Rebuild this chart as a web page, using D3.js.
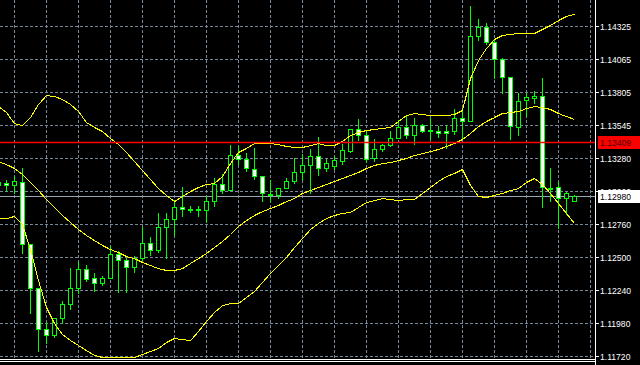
<!DOCTYPE html>
<html>
<head>
<meta charset="utf-8">
<script src="https://cdn.jsdelivr.net/npm/d3@7"></script>
<style>
  body { margin: 0; background: #000; }
  svg { display: block; }
  text { font-family: "Liberation Sans", Arial, sans-serif; font-size: 8.6px; }
</style>
</head>
<body>
<script>
// candles, oldest first (the first one is cut at the left edge)
var opens = [1.13093, 1.13085, 1.13070, 1.13093, 1.12604, 1.12257, 1.11933, 1.11886, 1.12020, 1.12130,
  1.12257, 1.12407, 1.12336, 1.12296, 1.12336, 1.12525, 1.12478, 1.12422, 1.12493, 1.12612,
  1.12557, 1.12738, 1.12801, 1.12896, 1.12880, 1.12880, 1.12872, 1.12943, 1.13078, 1.13030,
  1.13306, 1.13275, 1.13196, 1.13141, 1.12999, 1.12991, 1.13046, 1.13101, 1.13172, 1.13228,
  1.13299, 1.13204, 1.13220, 1.13259, 1.13338, 1.13512, 1.13464, 1.13283, 1.13354, 1.13385,
  1.13441, 1.13528, 1.13464, 1.13543, 1.13504, 1.13496, 1.13496, 1.13496, 1.13599, 1.13575,
  1.14246, 1.14317, 1.14198, 1.14064, 1.13922, 1.13528, 1.13741, 1.13756, 1.13772, 1.13046,
  1.13054, 1.12967, 1.12943]
var highs = [1.13109, 1.13109, 1.13141, 1.13204, 1.12604, 1.12257, 1.11988, 1.12020, 1.12154, 1.12414,
  1.12462, 1.12438, 1.12375, 1.12351, 1.12588, 1.12549, 1.12493, 1.12509, 1.12738, 1.12659,
  1.12849, 1.12849, 1.12951, 1.13054, 1.12904, 1.12904, 1.12983, 1.13125, 1.13156, 1.13385,
  1.13378, 1.13322, 1.13362, 1.13141, 1.13109, 1.13046, 1.13125, 1.13283, 1.13314, 1.13354,
  1.13449, 1.13275, 1.13299, 1.13393, 1.13512, 1.13591, 1.13496, 1.13433, 1.13393, 1.13496,
  1.13583, 1.13614, 1.13599, 1.13551, 1.13599, 1.13535, 1.13543, 1.13670, 1.13654, 1.14483,
  1.14380, 1.14348, 1.14214, 1.14072, 1.13922, 1.13796, 1.13796, 1.13812, 1.13914, 1.13204,
  1.13093, 1.13014, 1.12991]
var lows = [1.13046, 1.13022, 1.13007, 1.12533, 1.12059, 1.11759, 1.11822, 1.11870, 1.11980, 1.12091,
  1.12217, 1.12312, 1.12233, 1.12280, 1.12336, 1.12225, 1.12225, 1.12383, 1.12478, 1.12517,
  1.12541, 1.12493, 1.12675, 1.12825, 1.12857, 1.12825, 1.12778, 1.12904, 1.13007, 1.13030,
  1.13235, 1.13180, 1.13117, 1.12943, 1.12943, 1.12967, 1.13046, 1.13085, 1.13109, 1.13007,
  1.13149, 1.13180, 1.13196, 1.13235, 1.13330, 1.13425, 1.13251, 1.13259, 1.13338, 1.13378,
  1.13441, 1.13441, 1.13393, 1.13488, 1.13433, 1.13449, 1.13362, 1.13472, 1.13433, 1.13575,
  1.14214, 1.14183, 1.13914, 1.13796, 1.13433, 1.13464, 1.13614, 1.13717, 1.12896, 1.12943,
  1.12730, 1.12841, 1.12943]
var closes = [1.13070, 1.13070, 1.13101, 1.12604, 1.12257, 1.11933, 1.11886, 1.12020, 1.12130, 1.12257,
  1.12407, 1.12328, 1.12296, 1.12336, 1.12525, 1.12478, 1.12422, 1.12493, 1.12612, 1.12557,
  1.12738, 1.12801, 1.12896, 1.12880, 1.12880, 1.12880, 1.12943, 1.13078, 1.13030, 1.13306,
  1.13275, 1.13204, 1.13141, 1.13007, 1.12999, 1.13046, 1.13101, 1.13172, 1.13228, 1.13299,
  1.13204, 1.13243, 1.13267, 1.13346, 1.13512, 1.13464, 1.13275, 1.13354, 1.13385, 1.13441,
  1.13528, 1.13464, 1.13543, 1.13496, 1.13504, 1.13480, 1.13480, 1.13599, 1.13575, 1.14246,
  1.14317, 1.14198, 1.14064, 1.13922, 1.13535, 1.13733, 1.13764, 1.13772, 1.13054, 1.13046,
  1.12967, 1.13007, 1.12980]

// bollinger bands
var upperBand = [1.13693, 1.13646, 1.13559, 1.13543, 1.13606, 1.13709, 1.13780, 1.13772, 1.13749, 1.13709,
  1.13654, 1.13567, 1.13528, 1.13496, 1.13441, 1.13393, 1.13330, 1.13259, 1.13188, 1.13117,
  1.13046, 1.12991, 1.12943, 1.12983, 1.13022, 1.13054, 1.13078, 1.13085, 1.13141, 1.13243,
  1.13330, 1.13362, 1.13401, 1.13401, 1.13401, 1.13393, 1.13378, 1.13370, 1.13370, 1.13385,
  1.13401, 1.13385, 1.13385, 1.13417, 1.13464, 1.13488, 1.13504, 1.13512, 1.13520, 1.13528,
  1.13575, 1.13622, 1.13638, 1.13630, 1.13622, 1.13622, 1.13622, 1.13630, 1.13662, 1.13914,
  1.14056, 1.14151, 1.14222, 1.14254, 1.14262, 1.14270, 1.14270, 1.14270, 1.14301, 1.14333,
  1.14372, 1.14404, 1.14420]
var middleBand = [1.13259, 1.13235, 1.13204, 1.13156, 1.13093, 1.13030, 1.12959, 1.12896, 1.12833, 1.12778,
  1.12722, 1.12675, 1.12635, 1.12596, 1.12564, 1.12541, 1.12509, 1.12493, 1.12462, 1.12438,
  1.12414, 1.12399, 1.12399, 1.12414, 1.12454, 1.12493, 1.12533, 1.12580, 1.12628, 1.12683,
  1.12746, 1.12793, 1.12833, 1.12864, 1.12888, 1.12912, 1.12943, 1.12967, 1.13007, 1.13030,
  1.13054, 1.13078, 1.13101, 1.13125, 1.13149, 1.13172, 1.13204, 1.13228, 1.13243, 1.13251,
  1.13267, 1.13283, 1.13306, 1.13322, 1.13338, 1.13354, 1.13378, 1.13401, 1.13433, 1.13480,
  1.13535, 1.13575, 1.13606, 1.13638, 1.13646, 1.13654, 1.13677, 1.13693, 1.13685, 1.13670,
  1.13638, 1.13614, 1.13591]
var lowerBand = [1.12809, 1.12809, 1.12825, 1.12762, 1.12564, 1.12320, 1.12107, 1.11980, 1.11893, 1.11846,
  1.11807, 1.11767, 1.11728, 1.11712, 1.11712, 1.11712, 1.11712, 1.11712, 1.11736, 1.11759,
  1.11783, 1.11830, 1.11862, 1.11854, 1.11846, 1.11917, 1.11996, 1.12067, 1.12122, 1.12138,
  1.12138, 1.12186, 1.12233, 1.12304, 1.12375, 1.12438, 1.12501, 1.12580, 1.12651, 1.12722,
  1.12770, 1.12809, 1.12833, 1.12849, 1.12857, 1.12896, 1.12935, 1.12951, 1.12967, 1.12959,
  1.12951, 1.12959, 1.12959, 1.13007, 1.13054, 1.13101, 1.13141, 1.13164, 1.13196, 1.13070,
  1.12983, 1.12975, 1.12991, 1.13007, 1.13030, 1.13046, 1.13093, 1.13125, 1.13078, 1.13007,
  1.12928, 1.12849, 1.12770]

var tickLabels = ["1.14325", "1.14065", "1.13805", "1.13545", "1.13280", "1.13020",
  "1.12760", "1.12500", "1.12240", "1.11980", "1.11720"]
var hLinePrice = 1.13409
var bidPrice = 1.12980

var width = 640, height = 365
var axisX = 595

var svg = d3.select("body").append("svg")
  .attr("width", width)
  .attr("height", height)
  .style("background", "#000")

var n = opens.length
var x = d3.scaleLinear().domain([0, n - 1]).range([-2, 574])
var y = d3.scaleLinear().domain([1.11720, 1.14325]).range([356, 26])
var py = function (v) { return Math.round(y(v)) }

// grid
var gridIdx = d3.range(2, 75, 4)
svg.append("g").selectAll("line").data(gridIdx).enter().append("line")
  .attr("x1", function (d) { return x(d) + 0.5 }).attr("x2", function (d) { return x(d) + 0.5 })
  .attr("y1", 0).attr("y2", 358)
  .attr("stroke", "#778899").attr("stroke-dasharray", "3,2")
  .attr("shape-rendering", "crispEdges")
svg.append("g").selectAll("line").data(tickLabels).enter().append("line")
  .attr("x1", 0).attr("x2", axisX)
  .attr("y1", function (d) { return py(+d) + 0.5 }).attr("y2", function (d) { return py(+d) + 0.5 })
  .attr("stroke", "#778899").attr("stroke-dasharray", "3,2")
  .attr("shape-rendering", "crispEdges")

// bid line
svg.append("line")
  .attr("x1", 0).attr("x2", axisX)
  .attr("y1", py(bidPrice) + 0.5).attr("y2", py(bidPrice) + 0.5)
  .attr("stroke", "#9aa6b4").attr("shape-rendering", "crispEdges")

// candles
var idx = d3.range(n)
var cg = svg.append("g").attr("shape-rendering", "crispEdges")
cg.selectAll(".wick").data(idx).enter().append("line")
  .attr("x1", function (i) { return x(i) + 0.5 }).attr("x2", function (i) { return x(i) + 0.5 })
  .attr("y1", function (i) { return py(highs[i]) }).attr("y2", function (i) { return py(lows[i]) + 1 })
  .attr("stroke", "#00ff00")
cg.selectAll(".body").data(idx.filter(function (i) { return py(opens[i]) != py(closes[i]) })).enter().append("rect")
  .attr("x", function (i) { return x(i) - 1.5 })
  .attr("y", function (i) { return py(Math.max(opens[i], closes[i])) + 0.5 })
  .attr("width", 4)
  .attr("height", function (i) { return py(Math.min(opens[i], closes[i])) - py(Math.max(opens[i], closes[i])) })
  .attr("fill", function (i) { return closes[i] < opens[i] ? "#ffffff" : "#000000" })
  .attr("stroke", "#00ff00")
cg.selectAll(".doji").data(idx.filter(function (i) { return py(opens[i]) == py(closes[i]) })).enter().append("line")
  .attr("x1", function (i) { return x(i) - 2 }).attr("x2", function (i) { return x(i) + 3 })
  .attr("y1", function (i) { return py(opens[i]) + 0.5 }).attr("y2", function (i) { return py(opens[i]) + 0.5 })
  .attr("stroke", "#00ff00").attr("stroke-width", 2)

// bands
var line = d3.line()
  .x(function (d, i) { return x(i) + 0.5 })
  .y(function (d) { return y(d) + 0.5 })
;[upperBand, middleBand, lowerBand].forEach(function (b) {
  svg.append("path").datum(b)
    .attr("d", line)
    .attr("fill", "none")
    .attr("stroke", "#ffff00")
    .attr("stroke-width", 1)
    .attr("shape-rendering", "crispEdges")
})

// horizontal line object
svg.append("line")
  .attr("x1", 0).attr("x2", axisX)
  .attr("y1", py(hLinePrice) + 0.5).attr("y2", py(hLinePrice) + 0.5)
  .attr("stroke", "#ff0000").attr("stroke-width", 1.5)

// bottom border
svg.append("line").attr("x1", 0).attr("x2", axisX).attr("y1", 359.5).attr("y2", 359.5)
  .attr("stroke", "#fff").attr("shape-rendering", "crispEdges")
svg.append("line").attr("x1", 0).attr("x2", axisX).attr("y1", 361.5).attr("y2", 361.5)
  .attr("stroke", "#fff").attr("shape-rendering", "crispEdges")

// price axis
svg.append("rect").attr("x", axisX + 1).attr("y", 0).attr("width", width - axisX).attr("height", height).attr("fill", "#000")
svg.append("line").attr("x1", axisX + 0.5).attr("x2", axisX + 0.5).attr("y1", 0).attr("y2", height)
  .attr("stroke", "#fff").attr("shape-rendering", "crispEdges")
var ag = svg.append("g")
ag.selectAll("line").data(tickLabels).enter().append("line")
  .attr("x1", axisX).attr("x2", axisX + 4)
  .attr("y1", function (d) { return py(+d) + 0.5 }).attr("y2", function (d) { return py(+d) + 0.5 })
  .attr("stroke", "#fff").attr("shape-rendering", "crispEdges")
ag.selectAll("text").data(tickLabels).enter().append("text")
  .attr("x", 600).attr("y", function (d) { return py(+d) + 0.5 })
  .attr("dy", "0.35em")
  .attr("fill", "#fff")
  .text(function (d) { return d })

// price tags
function tag(price, bg, fg) {
  var yy = py(price)
  svg.append("rect").attr("x", 598).attr("y", yy - 6).attr("width", 42).attr("height", 13).attr("fill", bg)
  svg.append("text").attr("x", 600).attr("y", yy + 0.5).attr("dy", "0.35em").attr("fill", fg)
    .text(price.toFixed(5))
}
tag(hLinePrice, "#ff0000", "#4a0000")
tag(bidPrice, "#ffffff", "#000000")
</script>
</body>
</html>
